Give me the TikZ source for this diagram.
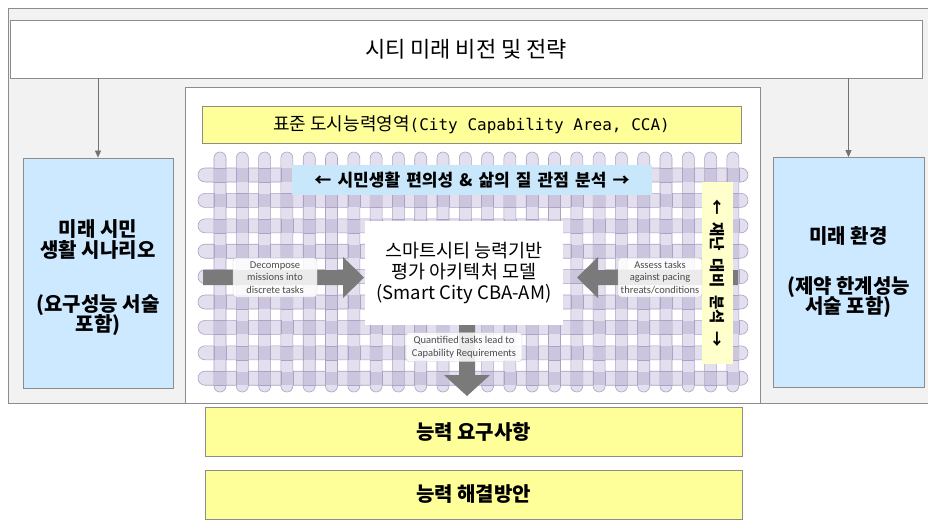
\documentclass[tikz,border=0pt]{standalone}
\usepackage{fontspec}
\setmainfont{Noto Sans CJK KR}
\newfontfamily\krfont{Noto Sans CJK KR}
\newfontfamily\calfont{Carlito}
\newfontfamily\monofont{DejaVu Sans Mono}
\usetikzlibrary{arrows.meta}
\definecolor{panelgray}{HTML}{F2F2F2}
\definecolor{edgegray}{HTML}{8C8C8C}
\definecolor{sideblue}{HTML}{CCE9FF}
\definecolor{boxyellow}{HTML}{FFFF99}
\definecolor{creamyellow}{HTML}{FFFFCC}
\definecolor{lavfill}{HTML}{E3DFEE}
\definecolor{lavcross}{HTML}{CCC5DE}
\definecolor{lavedge}{HTML}{ABA2C4}
\definecolor{arrowgray}{HTML}{7A7A7A}
\definecolor{bandblue}{HTML}{C9E7FB}
\tikzset{
  plainbox/.style={draw=edgegray, line width=0.8pt, inner sep=0pt, font=\krfont},
  sidebox/.style={plainbox, fill=sideblue, minimum width=150pt, minimum height=230pt},
  sidetext/.style={align=center, inner sep=0pt, font=\krfont\bfseries\fontsize{20}{21}\selectfont},
  yellowbox/.style={plainbox, fill=boxyellow, minimum width=537pt, minimum height=49pt, font=\krfont\bfseries\fontsize{20}{22}\selectfont},
  hbar/.style={fill=lavfill, draw=lavedge, line width=0.6pt, rounded corners=7pt},
  vbar/.style={fill=lavfill, draw=lavedge, line width=0.6pt, rounded corners=6pt},
  crosspatch/.style={fill=lavcross},
  weaveedge/.style={draw=lavedge, line width=0.6pt},
  tasklabel/.style={fill=white, fill opacity=0.85, text opacity=1, draw=gray!45, rounded corners=3pt, align=center, inner sep=1pt, text=black!70, font=\calfont\fontsize{10.5}{12.5}\selectfont},
  blockarrow/.style={fill=arrowgray},
  thinarrow/.style={draw=black!55, line width=0.7pt, -{Triangle[length=7pt,width=6pt]}}
}
\begin{document}
\begin{tikzpicture}[x=1pt,y=-1pt]
\useasboundingbox (0,0) rectangle (928,522);
\fill[white] (0,0) rectangle (928,522);
% outer grey panel
\fill[panelgray] (8,8) rectangle (928,403);
\draw[edgegray, line width=0.8pt] (928,8) -- (8,8) -- (8,403) -- (928,403);
% top box
\node[plainbox, fill=white, minimum width=912pt, minimum height=58pt, font=\krfont\fontsize{22}{24}\selectfont] (vision) at (466,49) {시티 미래 비전 및 전략};
% side boxes
\node[sidebox] (citizen) at (98,273) {};
\node[sidetext] (citizentext) at (98,278) {미래 시민\\생활 시나리오\\[33pt](요구성능 서술\\[-2pt]포함)};
\node[sidebox, minimum width=151pt] (env) at (848.5,272.5) {};
\node[sidetext] (envtext) at (env.center) {미래 환경\\[29pt](제약 한계성능\\[-2pt]서술 포함)};
\draw[thinarrow] (vision.south -| citizen.north) -- (citizen.north);
\draw[thinarrow] (vision.south -| env.north) -- (env.north);
% central panel
\node[plainbox, fill=white, minimum width=575pt, minimum height=316pt] (panel) at (472.5,245) {};
\node[plainbox, fill=boxyellow, minimum width=539pt, minimum height=37pt, font=\krfont\fontsize{18}{20}\selectfont] (cca) at (471.5,124.5) {표준 도시능력영역{\monofont\fontsize{16}{18}\selectfont(City Capability Area, CCA)}};
% woven lattice
\foreach \i in {0,...,8} {
  \pgfmathsetmacro{\yy}{175+25.4*\i}
  \path[hbar] (198,\yy-7) rectangle (748,\yy+7);
}
\foreach \j in {0,...,23} {
  \pgfmathsetmacro{\xx}{220+22.3*\j}
  \path[vbar] (\xx-6,152) rectangle (\xx+6,392);
}
\foreach \i in {0,...,8} {
  \foreach \j in {0,...,23} {
    \pgfmathsetmacro{\yy}{175+25.4*\i}
    \pgfmathsetmacro{\xx}{220+22.3*\j}
    \pgfmathtruncatemacro{\parity}{mod(\i+\j,2)}
    \fill[crosspatch] (\xx-5.7,\yy-6.7) rectangle (\xx+5.7,\yy+6.7);
    \ifnum\parity=0
      \draw[weaveedge] (\xx-6,\yy-7) -- (\xx+6,\yy-7) (\xx-6,\yy+7) -- (\xx+6,\yy+7);
    \else
      \draw[weaveedge] (\xx-6,\yy-7) -- (\xx-6,\yy+7) (\xx+6,\yy-7) -- (\xx+6,\yy+7);
    \fi
  }
}
% perspective band
\node[fill=bandblue, minimum width=360pt, minimum height=30pt, inner sep=0pt, font=\krfont\bfseries\fontsize{17}{19}\selectfont] (band) at (472,180) {\spaceskip=0.36em ← 시민생활 편의성 \& 삶의 질 관점 분석 →};
% core box
\node[fill=white, minimum width=198pt, minimum height=104pt, inner sep=0pt, align=center, font=\krfont\fontsize{18.5}{21}\selectfont] (core) at (464,273) {스마트시티 능력기반\\평가 아키텍처 모델\\(Smart City CBA-AM)};
% block arrows
\fill[blockarrow] (203,270) -- (343,270) -- (343,257) -- (364,277.5) -- (343,298) -- (343,285) -- (203,285) -- cycle;
\fill[blockarrow] (738,270) -- (598,270) -- (598,257) -- (577,277.5) -- (598,298) -- (598,285) -- (738,285) -- cycle;
\fill[blockarrow] (459,325) -- (475,325) -- (475,375) -- (490,375) -- (467,396) -- (444,375) -- (459,375) -- cycle;
% vertical band
\node[fill=creamyellow, minimum width=31pt, minimum height=182pt, inner sep=0pt] (vband) at (717.5,273) {};
\node[rotate=-90, font=\krfont\bfseries\fontsize{15.5}{17}\selectfont] (vtext) at (vband.center) {\spaceskip=0.5em ← 재난 대비 분석 →};
% task labels
\node[tasklabel, minimum width=84pt, minimum height=39pt] (decomp) at (275,277.5) {Decompose\\missions into\\discrete tasks};
\node[tasklabel, minimum width=84pt, minimum height=39pt] (assess) at (660,277.5) {Assess tasks\\against pacing\\threats/conditions};
\node[tasklabel, minimum width=116pt, minimum height=29pt] (quant) at (464,347) {Quantified tasks lead to\\Capability Requirements};
% bottom boxes
\node[yellowbox] (req) at (473.5,432) {능력 요구사항};
\node[yellowbox] (sol) at (473.5,494.5) {능력 해결방안};
\end{tikzpicture}
\end{document}
